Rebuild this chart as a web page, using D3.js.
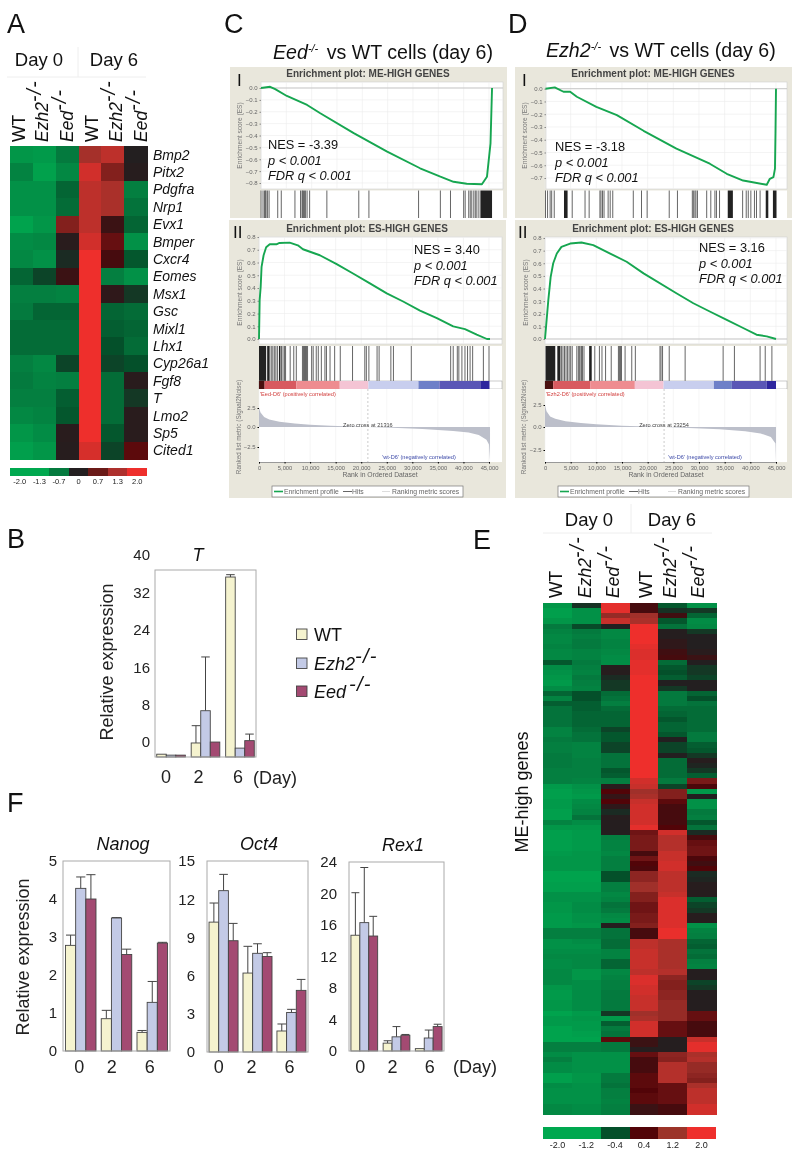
<!DOCTYPE html>
<html><head><meta charset="utf-8">
<script src="https://d3js.org/d3.v7.min.js"></script>
<style>html,body{margin:0;padding:0;background:#fff}svg{display:block;filter:blur(0.3px)}text{font-family:"Liberation Sans",Arial,sans-serif}</style>
</head><body><svg id="c" width="800" height="1159"></svg>
<script>
// ---------- DATA ----------
const conditions = ["WT","Ezh2","Eed","WT","Ezh2","Eed"];
const genesA = ["Bmp2","Pitx2","Pdgfra","Nrp1","Evx1","Bmper","Cxcr4","Eomes","Msx1","Gsc","Mixl1","Lhx1","Cyp26a1","Fgf8","T","Lmo2","Sp5","Cited1"];
const heatA = [
[-1.6,-1.7,-1.0,1.25,1.5,0],[-1.2,-1.85,-1.3,1.7,0.9,0.03],[-1.5,-1.5,-0.7,1.5,1.3,-1.1],[-1.5,-1.5,-0.8,1.5,1.3,-0.9],
[-1.9,-1.6,0.9,1.5,0.2,-0.7],[-1.4,-1.3,0.05,1.7,0.6,-1.5],[-1.3,-1.5,-0.1,2,0.3,-0.5],[-0.7,-0.3,0.2,2,-1.1,-1.5],
[-1.1,-1.1,-1.2,2,0.1,-0.2],[-1.0,-0.7,-0.7,2,-0.7,-0.8],[-0.8,-0.8,-0.8,2,-0.6,-0.7],[-0.8,-0.8,-0.8,2,-0.4,-0.8],
[-1.1,-1.3,-0.3,2,-0.3,-0.4],[-1.0,-1.2,-1.1,2,-0.8,0.05],[-1.1,-1.1,-0.6,2,-0.8,-0.2],[-1.3,-1.2,-0.5,2,-0.8,0.05],
[-1.6,-1.4,0.05,2,-0.5,0.05],[-1.8,-1.6,0.03,1.75,-0.3,0.5]];
const heatE = [
[-1.6,-0.15,1.9,0.3,-0.5,-1.5],[-1.8,-1.5,1.9,0.3,-0.15,-0.2],[-1.8,-1.5,1.1,1.2,0.25,-0.7],[-1.6,-1.5,1.6,1.3,-0.5,-1.4],
[-1.0,-0.35,0,2,-0.9,-1.3],[-1.2,-1,-1.3,2,0.02,-0.2],[-1.3,-1.1,-1.3,2,0.02,0],[-1.3,-1,-1.2,2,0.1,0],
[-1.2,-1,-1.2,1.9,0.1,0],[-1.3,-1.2,-1.3,1.8,0.25,0.05],[-1.3,-1.2,-1.4,1.8,0.3,0.2],[-0.5,-1,-1.4,1.9,-0.8,0],
[-1.4,-1.1,0.03,1.9,-0.5,-0.2],[-1.5,-1.2,0.03,1.9,-0.4,-0.2],[-1.6,-1,-0.1,2,-0.6,-0.3],[-1.7,-1.1,-0.2,2,0,0],
[-1.4,-1.2,-0.2,2,-0.2,0],[-0.7,-0.4,-0.8,2,-1,-0.7],[-1.2,-0.4,-0.9,2,-1,-0.4],[-0.6,-0.6,-1.1,2,-1,-0.9],
[-0.9,-0.6,-0.8,2,-0.8,-0.8],[-0.9,-0.7,-0.7,2,-0.7,-0.8],[-0.9,-0.7,-0.7,2,-0.5,-0.8],[-0.9,-0.7,-0.7,2,-0.7,-0.8],
[-1.2,-0.8,-0.3,2,-0.7,-0.8],[-1.2,-0.9,-0.5,2,-0.5,-1],[-1,-0.9,-0.5,2,0,-1],[-1.1,-1.2,-0.3,2,-0.3,-0.6],
[-1.1,-1.2,-0.3,2,-0.3,-0.5],[-1,-1.2,-0.9,2,0,-0.2],[-1,-1.1,-0.9,2,-0.8,0.03],[-1,-1.1,-0.9,2,-0.8,-0.05],
[-1.1,-1.1,-0.5,2,-0.8,-0.2],[-1.1,-1.1,-0.6,2,-0.8,-0.6],[-1.1,-1.2,-1.1,1.7,-1,0.8],[-1.7,-1.5,0.05,1.6,-0.3,0.35],
[-1.8,-1.6,0.4,1.2,0.9,-1.7],[-1.8,-1.7,0.15,1.3,0.9,0],[-1.7,-1.4,0.4,1.6,0.5,-1.5],[-1.7,-1.3,0.1,1.7,0.3,-1.5],
[-1.8,-1.2,-0.1,1.7,0.3,-1],[-1.8,-0.9,0.03,1.7,0.3,-1.1],[-1.2,-1.4,0.02,1.7,0.3,-0.5],[-1.6,-1.6,0.02,1.9,0.4,-0.9],
[-1.8,-1.7,0.02,0.7,1.7,-0.1],[-1.8,-1.7,-1.1,0.8,1.4,0.3],[-1.8,-1.7,-1.2,0.8,1.4,0.6],[-1.8,-1.7,-1.2,0.8,1.4,0.7],
[-1.7,-1.6,-1.3,0.3,1.6,0.7],[-1.6,-1.6,-1.1,0.7,1.6,0.35],[-1.6,-1.6,-1.1,0.4,1.7,0.25],[-1.6,-1.6,-1.1,0.35,1.7,0.4],
[-1.9,-1.9,-0.4,1,1.5,-0.1],[-1.9,-1.9,-0.4,1,1.5,-0.05],[-1.8,-1.8,-1.1,1.2,1.5,0.03],[-1.8,-1.8,-1.1,1.2,1.5,0.03],
[-1.5,-1.5,-1.3,0.9,1.6,0.03],[-1.5,-1.5,-1.2,0.9,1.8,-0.6],[-1.6,-1.4,-0.9,0.7,1.8,-0.3],[-1.6,-1.4,-1,0.7,1.8,-0.2],
[-1.7,-1.5,-1.3,0.8,1.8,0.03],[-1.7,-1.5,-1.4,0.8,1.8,0.03],[-1.7,-1.6,0.02,0.9,1.8,-1.5],[-1.1,-1.1,-0.9,0.3,1.95,-1.2],
[-1.1,-1.1,-0.9,0.3,1.95,-1.1],[-1.5,-1.4,-0.8,1.5,1.3,-0.7],[-1.5,-1.5,-0.8,1.5,1.3,-0.6],[-1.4,-1.4,-1.2,1.6,1.3,-0.9],
[-1.3,-1.3,-1.2,1.6,1.3,-0.8],[-1.4,-1.3,-0.7,1.6,1.3,-1.1],[-1.4,-1.3,-0.7,1.6,1.3,-1.2],[-1.3,-1.6,-1.3,1.5,1.4,0.02],
[-1.3,-1.6,-1.2,1.8,1,0.02],[-1.3,-1.4,-1.1,1.8,0.9,-0.3],[-1.6,-1.4,-1.1,1.7,0.9,-0.2],[-1.7,-1.4,-1,1.7,1,0.02],
[-1.7,-1.4,-1,1.6,1,0.02],[-1.6,-1.4,-1,1.6,1.1,0.02],[-1.6,-1.4,-1,1.6,1.1,0.02],[-1.9,-1.7,-0.2,1.2,1.1,0.6],
[-1.7,-1.6,-1.7,1.3,1.1,0.6],[-1.7,-1.7,-0.6,1.7,0.6,0.3],[-1.9,-1.7,-1,1.7,0.6,0.3],[-1.9,-1.8,-0.9,1.7,0.6,0.3],
[-1.9,-1.9,0.5,0.2,0.02,1.6],[-1.1,-1.1,-1,0.2,0.02,1.9],[-1.1,-1.1,-1,0.02,0.02,1.9],[-1.4,-1.5,-1.5,0.6,1,1.3],
[-1.1,-1.5,-1.5,0.3,0.95,1.4],[-1.4,-1.5,-1.5,0.3,1.4,1.1],[-1.4,-1.5,-1.5,0.3,1.4,1.1],[-1.8,-1.6,-1,0.5,1.4,1],
[-1.8,-1.6,-1,0.5,1.4,0.9],[-1.4,-1.5,-0.9,0.5,0.6,1.3],[-1.5,-1.5,-1.1,0.4,0.6,1.5],[-1.5,-1.5,-1.1,0.5,0.6,1.5],
[-1.5,-1.5,-1.2,0.5,0.6,1.5],[-1.3,-1.4,-1.1,0.2,0.3,1.7],[-1.3,-1.4,-1.1,0.2,0.3,1.7]];
const legendLabelsA = ["-2.0","-1.3","-0.7","0","0.7","1.3","2.0"];
const legendLabelsE = ["-2.0","-1.2","-0.4","0.4","1.2","2.0"];

const days = ["0","2","6"];
const barSeries = ["WT","Ezh2","Eed"];
const tMean = [[0.6,0.4,0.4],[3,9.9,3.2],[38.5,1.9,3.5]];
const tTop  = [[0.6,0.4,0.4],[6.7,21.4,3.2],[39,1.9,4.9]];
const nanogMean = [[2.78,4.28,4.0],[0.85,3.5,2.54],[0.49,1.28,2.84]];
const nanogTop  = [[3.05,4.58,4.64],[1.07,3.51,2.68],[0.54,1.83,2.86]];
const oct4Mean = [[10.2,12.67,8.74],[6.2,7.75,7.5],[1.65,3.1,4.84]];
const oct4Top  = [[11.7,13.95,10.1],[8.3,8.5,7.8],[2.2,3.35,5.7]];
const rex1Mean = [[14.7,16.3,14.6],[1.0,1.8,2.0],[0.3,1.65,3.1]];
const rex1Top  = [[20.1,23.3,17.1],[1.3,3.1,2.1],[0.3,2.66,3.4]];

const esC1 = [[0,0],[1.8,0.01],[2.8,-0.01],[5.1,-0.067],[9.1,-0.143],[11.7,-0.213],[18.3,-0.38],[24.9,-0.536],[31.4,-0.676],[35.4,-0.747],[38,-0.79],[40.6,-0.806],[43.6,-0.81],[44.6,-0.747],[45.3,-0.466],[45.6,0]];
const esC2 = [[0,0],[0.13,0.306],[0.33,0.41],[0.5,0.566],[0.9,0.657],[1.4,0.72],[2.1,0.743],[3.4,0.743],[4,0.753],[6,0.756],[7.6,0.735],[8.6,0.704],[11.9,0.657],[15.2,0.587],[18.4,0.514],[21.7,0.436],[25,0.358],[28.2,0.294],[31.5,0.223],[34.8,0.164],[38,0.099],[40.3,0.078],[42.6,0.034],[44.6,0],[45.2,0]];
const esD1 = [[0.1,0],[1.9,0.01],[3.6,-0.024],[4.9,-0.024],[6.2,-0.063],[10,-0.142],[14,-0.207],[19.2,-0.33],[25.6,-0.47],[32.1,-0.588],[35.4,-0.667],[38.6,-0.72],[43.2,-0.753],[43.8,-0.706],[44.5,-0.693],[44.8,-0.627],[44.9,-0.35],[45,0]];
const esD2 = [[0,0],[0.65,0.31],[1.1,0.49],[1.6,0.6],[2.3,0.677],[3.2,0.73],[4.9,0.756],[7.1,0.764],[9.4,0.743],[12.7,0.677],[15.9,0.612],[19.2,0.52],[25.6,0.362],[28.9,0.283],[32.1,0.218],[35.4,0.152],[38.6,0.087],[41.2,0.034],[43.2,0.021],[45,0]];
const hitsC1 = [0,0.4,0.7,0.9,1,1.3,1.6,3.3,4,6.7,7.8,8.1,8.2,8.4,8.6,8.8,9.1,9.6,13,19.3,21.3,31.1,35.4,37.4,40,40.3,41,41.3,41.6,42,42.3,42.6,43];
const blocksC1 = [[43.3,45.6]];
const hitsC2 = [2.1,2.4,2.7,3,3.3,3.6,4.4,4.7,5,5.2,6.1,6.8,7.3,8.5,8.7,8.9,9.1,9.3,9.5,10.3,10.6,11.2,11.6,12.2,12.9,13.2,13.9,14.8,15.9,18.3,20.7,21,21.5,23.1,23.5,25.8,26.3,29.8,37.5,38,38.8,39.1,39.7,40.3,40.8,41.3,41.8,43.9,45];
const blocksC2 = [[0,1.4],[1.6,2],[3.9,4.2]];
const hitsD1 = [0.1,0.5,1,1.3,1.8,5.3,7.8,8.6,10.7,10.9,11.2,11.5,12.3,12.7,13.2,17.2,18.8,19.9,24.2,25.8,28.7,28.9,29.2,29.4,29.7,31.5,32.3,33.1,33.4,34,38.5,39.2,39.6,40.1,40.8,41.2,41.9];
const blocksD1 = [[3.7,4.4],[35.6,36.6],[43,43.5],[44.4,45.1]];
const hitsD2 = [3.2,3.5,3.8,4.1,4.4,4.7,5,5.3,6.2,6.5,6.7,7,7.1,7.3,7.6,9.7,10.6,11.1,11.8,12.9,14.3,14.5,14.7,14.9,15.6,16.9,17.6,22.4,22.6,22.9,24.2,27.3,34.7,36.9,41.9,42.9,44.2];
const blocksD2 = [[0.1,2],[2.4,3],[8.6,9.1]];
const bandBreaksC = [0,1.1,7.3,15.8,21.4,31.2,35.3,43.3,45.1];
const bandBreaksD = [0,1.6,8.8,17.5,23.1,32.9,36.4,43.2,45];
const metricC = [[0,2.5],[0.3,1.9],[1,1.3],[2,1],[4,0.7],[7,0.45],[10,0.3],[14,0.15],[21.3,0],[26,-0.1],[32,-0.25],[38,-0.5],[41,-0.7],[43,-1],[44.5,-1.6],[45,-2.2],[45.2,-4.2]];
const metricD = [[0,2.5],[0.3,1.8],[1,1.2],[2,0.95],[4,0.65],[7,0.45],[10,0.3],[15,0.15],[23.2,0],[28,-0.1],[34,-0.25],[39,-0.45],[42,-0.7],[44,-1.1],[44.9,-1.8],[45,-3.6]];
const rankTicks = [0,5,10,15,20,25,30,35,40,45];
const es1TicksC = [0,-0.1,-0.2,-0.3,-0.4,-0.5,-0.6,-0.7,-0.8];
const es1TicksD = [0,-0.1,-0.2,-0.3,-0.4,-0.5,-0.6,-0.7];
const es2Ticks = [0,0.1,0.2,0.3,0.4,0.5,0.6,0.7,0.8];
const metricTicks = [2.5,0,-2.5];

// ---------- STYLE ----------
const svg = d3.select("#c");
const heatColor = d3.scaleLinear().domain([-2,-1,-0.4,0,0.4,1.2,2])
  .range(["#00a84f","#047a3e","#04502a","#231f20","#520408","#a0302a","#ee2f2c"]).clamp(true);
const barFill = {WT:"#f5f3cf",Ezh2:"#c3cae6",Eed:"#a34a72"};
const beige = "#e9e7dc";
const esGreen = "#16a650";
const bandColors = ["#4a1010","#d85a60","#ee8c90","#f4c4d4","#c8ceee","#6e80c8","#5a56b6","#2e269e"];

function label(g,x,y,str,size,o={}){
  return g.append("text").attr("x",x).attr("y",y).text(str).attr("font-size",size)
    .attr("fill",o.fill||"#111").attr("text-anchor",o.anchor||"start")
    .attr("font-style",o.italic?"italic":"normal").attr("font-weight",o.bold?"bold":"normal");
}
function genotype(sel,name,size,gap){
  const t = sel.append("text").attr("font-size",size).attr("fill","#111");
  if(name==="WT"){t.text("WT");return t;}
  t.append("tspan").attr("font-style","italic").text(name);
  t.append("tspan").attr("dy",-size*0.38).attr("dx",gap||0).attr("font-size",size*1.12).attr("letter-spacing",1.2).attr("font-style","italic").text("-/-");
  return t;
}
[["A",7,33],["B",7,548],["C",224,33],["D",508,33],["E",473,549],["F",7,812]].forEach(d=>label(svg,d[1],d[2],d[0],27));

// ---------- HEATMAPS ----------
function heatmap(m,x0,x1,y0,y1){
  const x = d3.scaleBand().domain(d3.range(6)).range([x0,x1]);
  const y = d3.scaleBand().domain(d3.range(m.length)).range([y0,y1]);
  const g = svg.append("g").attr("shape-rendering","crispEdges");
  m.forEach((row,i)=>row.forEach((v,j)=>{
    g.append("rect").attr("x",x(j)).attr("y",y(i)).attr("width",x.bandwidth()+0.5).attr("height",y.bandwidth()+0.5).attr("fill",heatColor(v));
  }));
  return {x,y};
}
const hA = heatmap(heatA,10,147,146,459);
genesA.forEach((n,i)=>label(svg,153,hA.y(i)+hA.y.bandwidth()/2+5,n,14,{italic:true}));
heatmap(heatE,543,716,603,1114);

function colHeads(baselines,bottom,size){
  conditions.forEach((c,i)=>{
    const g = svg.append("g").attr("transform",`translate(${baselines[i]},${bottom}) rotate(-90)`);
    genotype(g,c,size);
  });
}
colHeads([25,48,73,98,122,147],142,17.5);
colHeads([562,591,619,652,676,704],598,17.5);
label(svg,39,66,"Day 0",18.5,{anchor:"middle"});
label(svg,114,66,"Day 6",18.5,{anchor:"middle"});
label(svg,589,526,"Day 0",18.5,{anchor:"middle"});
label(svg,672,526,"Day 6",18.5,{anchor:"middle"});
[[7,77,146,77],[78,47,78,77],[543,533,712,533],[631,504,631,533]].forEach(d=>
  svg.append("line").attr("x1",d[0]).attr("y1",d[1]).attr("x2",d[2]).attr("y2",d[3]).attr("stroke","#eee"));
svg.append("g").attr("transform","translate(528,792) rotate(-90)").append("text").attr("text-anchor","middle")
  .attr("font-size",18).attr("fill","#111").text("ME-high genes");

function colorBar(labels,colors,x0,x1,y0,y1,ly,size){
  const x = d3.scaleBand().domain(colors.map((c,i)=>i)).range([x0,x1]);
  colors.forEach((c,i)=>svg.append("rect").attr("x",x(i)).attr("y",y0).attr("width",x.bandwidth()+0.4).attr("height",y1-y0).attr("fill",c).attr("shape-rendering","crispEdges"));
  labels.forEach((l,i)=>label(svg,x(i)+x.bandwidth()/2,ly,l,size,{anchor:"middle",fill:"#222"}));
}
colorBar(legendLabelsA,["#00a84f","#00a84f","#047a3e","#231f20","#6a1a18","#ad302d","#ee2f2c"],10,147,468,476,484,7.5);
colorBar(legendLabelsE,["#00a84f","#00a84f","#04502a","#520408","#9c3429","#ee2f2c"],543,716,1127,1139,1148,9);

// ---------- GSEA ----------
function gseaFrame(p){
  const g = svg.append("g");
  g.append("rect").attr("x",p.bg[0]).attr("y",p.bg[1]).attr("width",p.bg[2]-p.bg[0]).attr("height",p.bg[3]-p.bg[1]).attr("fill",beige);
  label(g,p.titleX,p.titleY,p.title,10,{anchor:"middle",bold:true,fill:"#444"});
  label(g,p.romanX,p.romanY,p.roman,17,{fill:"#111"});
  const x = d3.scaleLinear().domain([0,45]).range([p.x0,p.x45]);
  const y = d3.scaleLinear().domain(p.esDom).range(p.esRange);
  g.append("rect").attr("x",p.px0).attr("y",p.py0).attr("width",p.px1-p.px0).attr("height",p.py1-p.py0).attr("fill","#fff").attr("stroke","#cfcfcf").attr("stroke-width",0.6);
  const grid = g.append("g").attr("stroke","#ececec").attr("stroke-width",0.6);
  rankTicks.forEach(r=>grid.append("line").attr("x1",x(r)).attr("x2",x(r)).attr("y1",p.py0).attr("y2",p.py1));
  p.esTicks.forEach(t=>grid.append("line").attr("x1",p.px0).attr("x2",p.px1).attr("y1",y(t)).attr("y2",y(t)));
  g.append("line").attr("x1",p.px0).attr("x2",p.px1).attr("y1",y(0)).attr("y2",y(0)).attr("stroke","#bbb").attr("stroke-width",0.8);
  const ax = g.append("g").attr("transform",`translate(${p.px0},0)`).call(d3.axisLeft(y).tickValues(p.esTicks).tickFormat(d3.format(".1f")).tickSize(1.5).tickPadding(2));
  ax.select(".domain").remove();
  ax.selectAll("text").attr("font-size",6).attr("fill","#666").style("font-family",'"Liberation Sans",Arial,sans-serif');
  ax.selectAll("line").attr("stroke","#888");
  g.append("path").datum(p.es).attr("fill","none").attr("stroke",esGreen).attr("stroke-width",1.9).attr("stroke-linejoin","round")
    .attr("d",d3.line().x(d=>x(d[0])).y(d=>y(d[1])));
  g.append("rect").attr("x",p.px0).attr("y",p.hy0).attr("width",p.px1-p.px0).attr("height",p.hy1-p.hy0).attr("fill","#fff");
  p.hits.forEach(r=>g.append("line").attr("x1",x(r)).attr("x2",x(r)).attr("y1",p.hy0).attr("y2",p.hy1).attr("stroke","#666").attr("stroke-width",1));
  p.blocks.forEach(b=>g.append("rect").attr("x",x(b[0])).attr("width",x(b[1])-x(b[0])).attr("y",p.hy0).attr("height",p.hy1-p.hy0).attr("fill","#222"));
  g.append("g").attr("transform",`translate(${p.esLabelX},${(p.py0+p.py1)/2+p.esLabelDy}) rotate(-90)`).append("text")
    .attr("text-anchor","middle").attr("font-size",6.6).attr("fill","#777").text("Enrichment score (ES)");
  p.stats.forEach((s,i)=>label(g,p.statX,p.statY[i],s,12.8,{italic:i>0}));
  return {g,x};
}
function gseaLower(F,p){
  const {g,x} = F;
  g.append("rect").attr("x",p.px0).attr("y",p.hy1).attr("width",p.px1-p.px0).attr("height",p.by1-p.hy1).attr("fill","#fff").attr("stroke","#999").attr("stroke-width",0.5);
  bandColors.forEach((c,i)=>g.append("rect").attr("x",x(p.breaks[i])).attr("width",x(p.breaks[i+1])-x(p.breaks[i])).attr("y",p.hy1).attr("height",p.by1-p.hy1).attr("fill",c));
  const my = d3.scaleLinear().domain([2.5,0,-2.5]).range(p.mRange);
  g.append("rect").attr("x",p.px0).attr("y",p.by1).attr("width",p.px1-p.px0).attr("height",p.axisY-p.by1).attr("fill","#fff");
  const grid = g.append("g").attr("stroke","#f0f0f0").attr("stroke-width",0.6);
  rankTicks.forEach(r=>grid.append("line").attr("x1",x(r)).attr("x2",x(r)).attr("y1",p.by1).attr("y2",p.axisY));
  g.append("path").datum(p.metric).attr("fill","#bcbfca").attr("d",d3.area().x(d=>x(d[0])).y0(my(0)).y1(d=>my(d[1])));
  g.append("line").attr("x1",x(p.zero)).attr("x2",x(p.zero)).attr("y1",p.by1).attr("y2",p.axisY).attr("stroke","#aaa").attr("stroke-width",0.6).attr("stroke-dasharray","2,2");
  label(g,x(p.zero),my(0)-0.5,"Zero cross at "+p.zeroText,5.6,{anchor:"middle",fill:"#444"});
  label(g,p.px0+1,p.by1+7,p.redText,5.6,{fill:"#d2403f"});
  label(g,p.blueX,p.axisY-3,p.blueText,5.6,{anchor:"middle",fill:"#3d4aa8"});
  const ma = g.append("g").attr("transform",`translate(${p.px0},0)`).call(d3.axisLeft(my).tickValues(metricTicks).tickFormat(d3.format(".1f")).tickSize(1.5).tickPadding(2));
  ma.select(".domain").remove();
  ma.selectAll("text").attr("font-size",6).attr("fill","#666").style("font-family",'"Liberation Sans",Arial,sans-serif');
  const xa = g.append("g").attr("transform",`translate(0,${p.axisY})`).call(d3.axisBottom(x).tickValues(rankTicks).tickFormat(d=>d===0?"0":d3.format(",")(d*1000)).tickSize(1.5).tickPadding(2));
  xa.select(".domain").attr("stroke","#999");
  xa.selectAll("text").attr("font-size",5.8).attr("fill","#666").style("font-family",'"Liberation Sans",Arial,sans-serif');
  g.append("g").attr("transform",`translate(${p.mLabelX},${my(0)}) rotate(-90)`).append("text").attr("text-anchor","middle")
    .attr("font-size",6.4).attr("fill","#777").text("Ranked list metric (Signal2Noise)");
  label(g,p.rankX,477,"Rank in Ordered Dataset",6.8,{anchor:"middle",fill:"#666"});
  const lx = p.legX;
  g.append("rect").attr("x",lx).attr("y",486).attr("width",191).attr("height",11).attr("fill","#fff").attr("stroke","#777").attr("stroke-width",0.7);
  g.append("line").attr("x1",lx+2).attr("x2",lx+11).attr("y1",491.5).attr("y2",491.5).attr("stroke",esGreen).attr("stroke-width",1.6);
  label(g,lx+12,494,"Enrichment profile",6.8,{fill:"#666"});
  g.append("line").attr("x1",lx+71).attr("x2",lx+80).attr("y1",491.5).attr("y2",491.5).attr("stroke","#666").attr("stroke-width",1);
  label(g,lx+80,494,"Hits",6.8,{fill:"#666"});
  g.append("line").attr("x1",lx+110).attr("x2",lx+118).attr("y1",491.5).attr("y2",491.5).attr("stroke","#ddd").attr("stroke-width",1);
  label(g,lx+120,494,"Ranking metric scores",6.8,{fill:"#666"});
}
gseaFrame({bg:[230,67,507,218],title:"Enrichment plot: ME-HIGH GENES",titleX:368,titleY:76.5,roman:"I",romanX:237,romanY:86,
  x0:261,x45:489,esDom:[0,-0.8],esRange:[88,183],px0:261,px1:503,py0:82,py1:189,hy0:190.5,hy1:218,esTicks:es1TicksC,es:esC1,hits:hitsC1,blocks:blocksC1,
  esLabelX:242,esLabelDy:0,stats:["NES = -3.39","p < 0.001","FDR q < 0.001"],statX:268,statY:[149,165,180]});
const fC2 = gseaFrame({bg:[229,220,506,498],title:"Enrichment plot: ES-HIGH GENES",titleX:367,titleY:232,roman:"II",romanX:233,romanY:238,
  x0:259,x45:489,esDom:[0,0.8],esRange:[339,237],px0:259,px1:502,py0:237,py1:344,hy0:346,hy1:381,esTicks:es2Ticks,es:esC2,hits:hitsC2,blocks:blocksC2,
  esLabelX:242,esLabelDy:2,stats:["NES = 3.40","p < 0.001","FDR q < 0.001"],statX:414,statY:[254,270,285]});
gseaLower(fC2,{px0:259,px1:502,hy1:381,by1:389,axisY:462,breaks:bandBreaksC,mRange:[408,427,447],metric:metricC,zero:21.3,zeroText:"21316",
  redText:"'Eed-D6' (positively correlated)",blueText:"'wt-D6' (negatively correlated)",blueX:419,mLabelX:241,rankX:380,legX:272});
gseaFrame({bg:[515,67,792,218],title:"Enrichment plot: ME-HIGH GENES",titleX:653,titleY:76.5,roman:"I",romanX:522,romanY:86,
  x0:545,x45:776,esDom:[0,-0.7],esRange:[88.7,178],px0:546,px1:787,py0:82,py1:189,hy0:190.5,hy1:218,esTicks:es1TicksD,es:esD1,hits:hitsD1,blocks:blocksD1,
  esLabelX:527,esLabelDy:0,stats:["NES = -3.18","p < 0.001","FDR q < 0.001"],statX:555,statY:[151,167,182]});
const fD2 = gseaFrame({bg:[515,220,792,498],title:"Enrichment plot: ES-HIGH GENES",titleX:653,titleY:232,roman:"II",romanX:518,romanY:238,
  x0:545,x45:776,esDom:[0,0.8],esRange:[339,238],px0:545,px1:787,py0:237,py1:344,hy0:346,hy1:381,esTicks:es2Ticks,es:esD2,hits:hitsD2,blocks:blocksD2,
  esLabelX:528,esLabelDy:2,stats:["NES = 3.16","p < 0.001","FDR q < 0.001"],statX:699,statY:[252,268,283]});
gseaLower(fD2,{px0:545,px1:787,hy1:381,by1:389,axisY:462,breaks:bandBreaksD,mRange:[405,427,450],metric:metricD,zero:23.2,zeroText:"23254",
  redText:"'Ezh2-D6' (positively correlated)",blueText:"'wt-D6' (negatively correlated)",blueX:705,mLabelX:526,rankX:666,legX:558});
function panelTitle(x,y,name,gap){
  const t = svg.append("text").attr("x",x).attr("y",y).attr("font-size",19.6).attr("fill","#111");
  t.append("tspan").attr("font-style","italic").text(name);
  t.append("tspan").attr("dy",-7).attr("font-size",11).attr("font-style","italic").text("-/-");
  t.append("tspan").attr("dy",7).attr("dx",gap).text(" vs WT cells (day 6)");
}
panelTitle(273,59,"Eed",3);
panelTitle(546,57,"Ezh2",3);

// ---------- BAR CHARTS ----------
function bars(means,tops,p){
  const x = d3.scaleBand().domain(days).range([p.x0,p.x1]).paddingInner(p.pi).paddingOuter(p.po);
  const xi = d3.scaleBand().domain(barSeries).range([0,x.bandwidth()]);
  const y = d3.scaleLinear().domain([0,p.max]).range([p.y0,p.y1]);
  const g = svg.append("g");
  const ya = g.append("g").attr("transform",`translate(${p.x0},0)`).call(d3.axisLeft(y).tickValues(p.ticks).tickSize(0).tickPadding(p.tickPad).tickFormat(d3.format("d")));
  ya.select(".domain").remove();
  ya.selectAll("text").attr("font-size",15).attr("fill","#222").style("font-family",'"Liberation Sans",Arial,sans-serif')
    .attr("transform",`translate(0,${p.labelShift||0})`);
  means.forEach((row,i)=>row.forEach((v,j)=>{
    const s = barSeries[j], bx = x(days[i])+xi(s), w = xi.bandwidth(), cx = bx+w/2;
    if(tops[i][j]>v){
      g.append("line").attr("x1",cx).attr("x2",cx).attr("y1",y(tops[i][j])).attr("y2",y(v)).attr("stroke","#444").attr("stroke-width",1);
      g.append("line").attr("x1",bx+0.5).attr("x2",bx+w-0.5).attr("y1",y(tops[i][j])).attr("y2",y(tops[i][j])).attr("stroke","#444").attr("stroke-width",1);
    }
    g.append("rect").attr("x",bx).attr("y",y(v)).attr("width",w).attr("height",y(0)-y(v)).attr("fill",barFill[s]).attr("stroke","#444").attr("stroke-width",0.9);
  }));
  g.append("rect").attr("x",p.x0).attr("y",p.y1).attr("width",p.x1-p.x0).attr("height",p.y0-p.y1).attr("fill","none").attr("stroke","#aaa").attr("stroke-width",1);
  const xa = g.append("g").attr("transform",`translate(0,${p.y0})`).call(d3.axisBottom(x).tickSize(0).tickPadding(p.xPad));
  xa.select(".domain").remove();
  xa.selectAll("text").attr("font-size",18).attr("fill","#222").style("font-family",'"Liberation Sans",Arial,sans-serif')
    .attr("dx",(d,i)=>p.dx[i]);
  label(svg,p.titleX,p.titleY,p.title,18,{anchor:"middle",italic:true});
}
bars(tMean,tTop,{x0:155,x1:256,y0:757,y1:570,max:40,ticks:[0,8,16,24,32,40],tickPad:5,labelShift:-15,pi:0.17,po:0.05,xPad:13,dx:[-5,-7,-2],title:"T",titleX:198,titleY:561});
bars(nanogMean,nanogTop,{x0:63,x1:170,y0:1051,y1:861,max:5,ticks:[0,1,2,3,4,5],tickPad:6,pi:0.147,po:0.07,xPad:9,dx:[-1.6,-4.8,-2.6],title:"Nanog",titleX:123,titleY:850});
bars(oct4Mean,oct4Top,{x0:207,x1:308,y0:1052,y1:861,max:15,ticks:[0,3,6,9,12,15],tickPad:12,pi:0.145,po:0.06,xPad:8,dx:[-4.7,-6,-2],title:"Oct4",titleX:259,titleY:850});
bars(rex1Mean,rex1Top,{x0:349,x1:444,y0:1051,y1:862,max:24,ticks:[0,4,8,12,16,20,24],tickPad:12,pi:0.17,po:0.06,xPad:9,dx:[-4,-4,1],title:"Rex1",titleX:403,titleY:851});
label(svg,253,784,"(Day)",18,{fill:"#222"});
label(svg,453,1073,"(Day)",18,{fill:"#222"});
[[107,662],[23,957]].forEach(d=>svg.append("g").attr("transform",`translate(${d[0]+6},${d[1]}) rotate(-90)`).append("text")
  .attr("text-anchor","middle").attr("font-size",18).attr("fill","#222").text("Relative expression"));
barSeries.forEach((s,i)=>{
  const yy = [629,658,686][i];
  svg.append("rect").attr("x",296.5).attr("y",yy).attr("width",10.5).attr("height",10.5).attr("fill",barFill[s]).attr("stroke","#444").attr("stroke-width",0.9);
  const t = svg.append("g").attr("transform",`translate(314,${yy+11.5})`);
  genotype(t,s,18,s==="Eed"?3:0);
});
</script></body></html>
